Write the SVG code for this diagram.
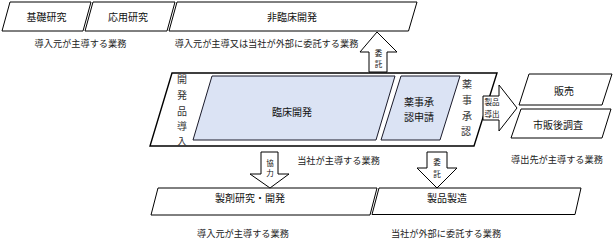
<svg xmlns="http://www.w3.org/2000/svg" width="613" height="246" viewBox="0 0 613 246">
<style>
.box{fill:#fff;stroke:#000;stroke-width:1}
.main{fill:#fff;stroke:#000;stroke-width:1.4}
.blue{fill:#dbe3f4;stroke:#1a1a2a;stroke-width:1}
.arr{fill:#fff;stroke:#000;stroke-width:1}
text{font-family:"Noto Sans CJK JP","Noto Sans CJK SC",sans-serif;fill:#111;text-anchor:middle;dominant-baseline:central}
.t{font-size:10px}
.c{font-size:9.2px;fill:#222}
.v{font-size:10px;fill:#333}
.s{font-size:7.5px}
</style>
<rect width="613" height="246" fill="#fff"/>
<g id="kiso">
<polygon class="box" points="10,2 91,2 83,31 2,31"/>
<text class="t" x="46.5" y="16">基礎研究</text>
</g>
<g id="ouyou">
<polygon class="box" points="93,2 175,2 167,31 85,31"/>
<text class="t" x="128" y="16">応用研究</text>
</g>
<g id="hirinsho">
<polygon class="box" points="177,2 417,2 408.5,31 169,31"/>
<text class="t" x="292" y="16">非臨床開発</text>
</g>
<text class="c" x="80.5" y="43">導入元が主導する業務</text>
<text class="c" x="266.5" y="43">導入元が主導又は当社が外部に委託する業務</text>
<g id="main">
<polygon class="main" points="172,73 497,73 474,146 150,146"/>
<text class="v" x="182" y="78">開</text>
<text class="v" x="182" y="94">発</text>
<text class="v" x="182" y="110">品</text>
<text class="v" x="182" y="125">導</text>
<text class="v" x="182" y="140">入</text>
<text class="v" x="467" y="83">薬</text>
<text class="v" x="467" y="99">事</text>
<text class="v" x="467" y="115">承</text>
<text class="v" x="466" y="130">認</text>
</g>
<g id="rinsho">
<polygon class="blue" points="212,76 395,76 376,140 193,140"/>
<text class="t" x="292" y="111">臨床開発</text>
</g>
<g id="shinsei">
<polygon class="blue" points="401,76 460,76 440,140 381,140"/>
<text class="t" x="419" y="101.5">薬事承</text>
<text class="t" x="419" y="116">認申請</text>
</g>
<text class="c" x="338.5" y="160">当社が主導する業務</text>
<g id="hanbai">
<polygon class="box" points="529,74 612,74 602,105 519,105"/>
<text class="t" x="564" y="90">販売</text>
</g>
<g id="shihango">
<polygon class="box" points="521,109 611,109 602,138 511,138"/>
<text class="t" x="558" y="124">市販後調査</text>
</g>
<text class="c" x="557" y="159">導出先が主導する業務</text>
<g id="seizai">
<polygon class="box" points="158,188 377,188 370,215 151,215"/>
<text class="t" x="250" y="197">製剤研究・開発</text>
</g>
<g id="seizou">
<polygon class="box" points="379,188 581,188 575,214.5 372,214.5"/>
<text class="t" x="447" y="197.5">製品製造</text>
</g>
<text class="c" x="243" y="233">導入元が主導する業務</text>
<text class="c" x="446" y="233">当社が外部に委託する業務</text>
<g id="connectors">
<g id="arrow-itaku-up">
<polygon class="arr" points="369,72 369,52 360,52 377,32 397,52 387,52 387,72"/>
<text class="s" x="378.5" y="52">委</text>
<text class="s" x="378.5" y="63">託</text>
</g>
<g id="arrow-kyoryoku">
<polygon class="arr" points="261,152 278,152 278,174 289,174 270,188 250,174 261,174"/>
<text class="s" x="270" y="162">協</text>
<text class="s" x="270" y="172">力</text>
</g>
<g id="arrow-itaku-down">
<polygon class="arr" points="427,152 447,152 447,168 457,168 437,188 417,168 427,168"/>
<text class="s" x="437" y="161">委</text>
<text class="s" x="437" y="173">託</text>
</g>
<g id="arrow-doushutsu">
<polygon class="arr" points="483,96 499,96 499,85 517,108 499,131 499,120 483,120"/>
<text class="s" x="492" y="101.5">製品</text>
<text class="s" x="492" y="113.5">導出</text>
</g>
</g>
</svg>
